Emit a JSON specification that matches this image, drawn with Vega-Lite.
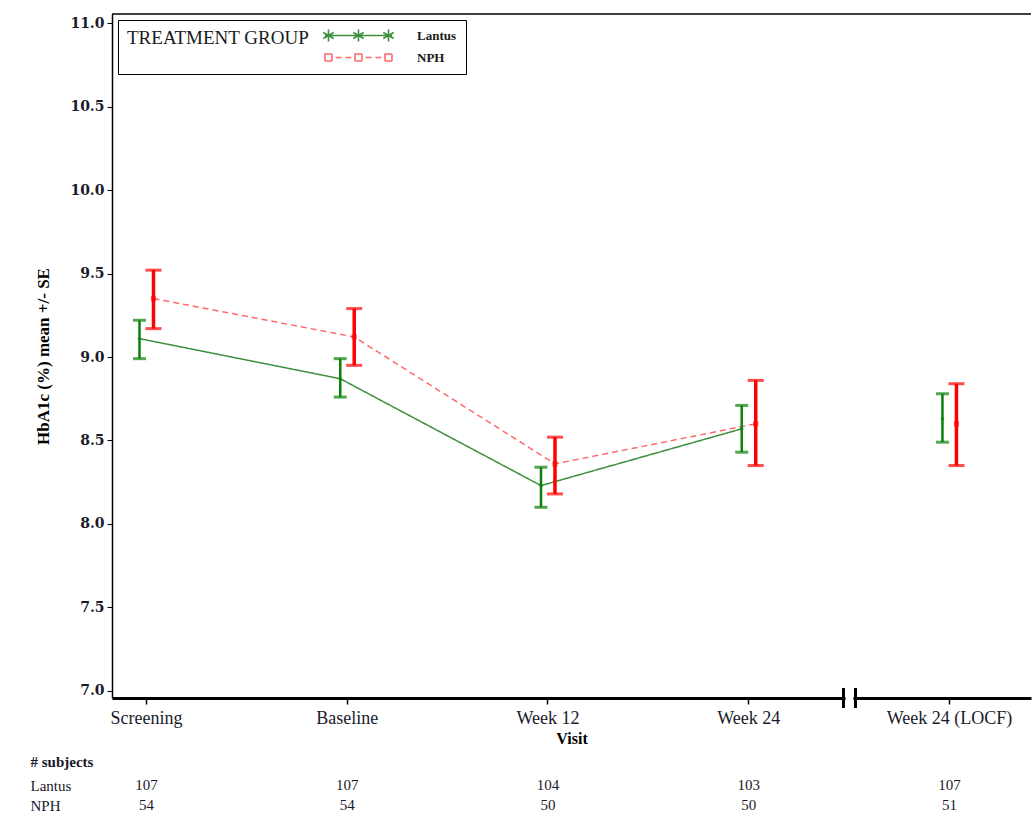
{
  "$schema": "https://vega.github.io/schema/vega-lite/v6.json",
  "padding": {"left": 30, "top": 13, "right": 0, "bottom": 0},
  "background": "white",
  "config": {
    "font": "Liberation Serif",
    "view": {"stroke": null},
    "concat": {"spacing": 8}
  },
  "datasets": {
    "hba1c": [
      {"visit": "Screening", "group": "Lantus", "mean": 9.11, "lower": 8.99, "upper": 9.22, "n": 107},
      {"visit": "Screening", "group": "NPH", "mean": 9.35, "lower": 9.17, "upper": 9.52, "n": 54},
      {"visit": "Baseline", "group": "Lantus", "mean": 8.87, "lower": 8.76, "upper": 8.99, "n": 107},
      {"visit": "Baseline", "group": "NPH", "mean": 9.12, "lower": 8.95, "upper": 9.29, "n": 54},
      {"visit": "Week 12", "group": "Lantus", "mean": 8.23, "lower": 8.10, "upper": 8.34, "n": 104},
      {"visit": "Week 12", "group": "NPH", "mean": 8.36, "lower": 8.18, "upper": 8.52, "n": 50},
      {"visit": "Week 24", "group": "Lantus", "mean": 8.57, "lower": 8.43, "upper": 8.71, "n": 103},
      {"visit": "Week 24", "group": "NPH", "mean": 8.60, "lower": 8.35, "upper": 8.86, "n": 50},
      {"visit": "Week 24 (LOCF)", "group": "Lantus", "mean": 8.63, "lower": 8.49, "upper": 8.78, "n": 107},
      {"visit": "Week 24 (LOCF)", "group": "NPH", "mean": 8.60, "lower": 8.35, "upper": 8.84, "n": 51}
    ],
    "axisbreak": [{"visit": "Week 24 (LOCF)"}]
  },
  "vconcat": [
    {
      "width": 919,
      "height": 684,
      "resolve": {"scale": {"color": "independent"}},
      "layer": [
        {
          "data": {"name": "hba1c"},
          "transform": [{"filter": "datum.visit !== 'Week 24 (LOCF)'"}],
          "mark": {"type": "line", "strokeWidth": 1.5},
          "encoding": {
            "x": {
              "field": "visit",
              "type": "nominal",
              "sort": ["Screening", "Baseline", "Week 12", "Week 24", "Week 24 (LOCF)"],
              "scale": {"type": "band", "domain": ["Screening", "Baseline", "Week 12", "Week 24", "Week 24 (LOCF)"], "paddingInner": 0.8, "paddingOuter": 0.189, "align": 0.19},
              "axis": {
                "title": "Visit",
                "titleFontWeight": "bold",
                "titleFontSize": 16,
                "titlePadding": 3,
                "labelAngle": 0,
                "labelFontSize": 18,
                "labelPadding": 5,
                "labelColor": "#1a1a2a",
                "tickSize": 6,
                "tickWidth": 1.5,
                "tickColor": "#000",
                "domainWidth": 3,
                "domainColor": "#000",
                "grid": false
              }
            },
            "xOffset": {"field": "group", "type": "nominal", "scale": {"domain": ["Lantus", "NPH"], "paddingInner": 0, "paddingOuter": 0.434}},
            "y": {
              "field": "mean",
              "type": "quantitative",
              "scale": {"domain": [6.958, 11.054], "nice": false, "zero": false},
              "axis": {
                "title": "HbA1c (%) mean +/- SE",
                "titleFontWeight": "bold",
                "titleFontSize": 17,
                "titlePadding": 17,
                "values": [7, 7.5, 8, 8.5, 9, 9.5, 10, 10.5, 11],
                "format": ".1f",
                "labelFont": "DejaVu Serif",
                "labelFontWeight": "bold",
                "labelFontSize": 14,
                "labelColor": "#1a1a2a",
                "labelPadding": 3,
                "tickSize": 5,
                "tickColor": "#000",
                "domainColor": "#000",
                "domainWidth": 1.5,
                "grid": false
              }
            },
            "color": {
              "field": "group",
              "type": "nominal",
              "scale": {"domain": ["Lantus", "NPH"], "range": ["#3d8f3d", "#ff6a6a"]},
              "legend": {
                "title": "TREATMENT GROUP",
                "orient": "top-left",
                "offset": 6,
                "titleOrient": "left",
                "titleBaseline": "top",
                "titleAnchor": "start",
                "titleLimit": 400,
                "titleFontSize": 19,
                "titleFontWeight": "normal",
                "titleColor": "#1a1a1a",
                "titlePadding": 14,
                "labelFontSize": 13,
                "labelFontWeight": "bold",
                "labelColor": "#1a1a1a",
                "labelOffset": 52,
                "symbolOffset": 28,
                "symbolSize": 100,
                "symbolStrokeWidth": 1.5,
                "rowPadding": 5,
                "padding": 9,
                "strokeColor": "#000",
                "fillColor": "white",
                "encode": {
                  "symbols": {
                    "update": {
                      "shape": {"signal": "datum.value === 'Lantus' ? 'M-6.7,0L6.7,0M-6,-1.2L-6,1.2M-7.05,-0.6L-4.95,0.6M-7.05,0.6L-4.95,-0.6M0,-1.2L0,1.2M-1.05,-0.6L1.05,0.6M-1.05,0.6L1.05,-0.6M6,-1.2L6,1.2M4.95,-0.6L7.05,0.6M4.95,0.6L7.05,-0.6' : 'M-6.7,-0.7h1.4v1.4h-1.4zM-0.7,-0.7h1.4v1.4h-1.4zM5.3,-0.7h1.4v1.4h-1.4zM-4.57,0h1.2M-2.63,0h1.2M1.43,0h1.2M3.37,0h1.2'"},
                      "stroke": {"signal": "datum.value === 'Lantus' ? '#1a8a1a' : '#ff2020'"},
                      "fill": {"value": "transparent"},
                      "strokeDash": {"value": [1, 0]},
                      "strokeWidth": {"value": 1.6},
                      "size": {"value": 100},
                      "opacity": {"value": 1}
                    }
                  }
                }
              }
            },
            "strokeDash": {"field": "group", "type": "nominal", "scale": {"domain": ["Lantus", "NPH"], "range": [[1, 0], [6, 4]]}, "legend": null}
          }
        },
        {
          "data": {"name": "axisbreak"},
          "mark": {"type": "rule", "color": "black", "strokeWidth": 1.5},
          "encoding": {
            "y": {"datum": 11.054, "type": "quantitative"}
          }
        },
        {
          "data": {"name": "hba1c"},
          "mark": {"type": "rule"},
          "encoding": {
            "x": {"field": "visit", "type": "nominal"},
            "xOffset": {"field": "group", "type": "nominal"},
            "y": {"field": "lower", "type": "quantitative"},
            "y2": {"field": "upper"},
            "stroke": {"field": "group", "type": "nominal", "scale": {"domain": ["Lantus", "NPH"], "range": ["#0a820a", "#ff0000"]}, "legend": null},
            "strokeWidth": {"field": "group", "type": "nominal", "scale": {"domain": ["Lantus", "NPH"], "range": [2.5, 3.5]}, "legend": null}
          }
        },
        {
          "data": {"name": "hba1c"},
          "mark": {"type": "tick", "thickness": 3, "orient": "horizontal"},
          "encoding": {
            "x": {"field": "visit", "type": "nominal"},
            "xOffset": {"field": "group", "type": "nominal"},
            "y": {"field": "lower", "type": "quantitative"},
            "color": {"field": "group", "type": "nominal", "scale": {"domain": ["Lantus", "NPH"], "range": ["#0a820a", "#ff0000"]}, "legend": null},
            "size": {"field": "group", "type": "nominal", "scale": {"domain": ["Lantus", "NPH"], "range": [13, 16]}, "legend": null}
          }
        },
        {
          "data": {"name": "hba1c"},
          "mark": {"type": "tick", "thickness": 3, "orient": "horizontal"},
          "encoding": {
            "x": {"field": "visit", "type": "nominal"},
            "xOffset": {"field": "group", "type": "nominal"},
            "y": {"field": "upper", "type": "quantitative"},
            "color": {"field": "group", "type": "nominal", "scale": {"domain": ["Lantus", "NPH"], "range": ["#0a820a", "#ff0000"]}, "legend": null},
            "size": {"field": "group", "type": "nominal", "scale": {"domain": ["Lantus", "NPH"], "range": [13, 16]}, "legend": null}
          }
        },
        {
          "data": {"name": "hba1c"},
          "mark": {"type": "point", "filled": false, "strokeWidth": 1.2},
          "encoding": {
            "x": {"field": "visit", "type": "nominal"},
            "xOffset": {"field": "group", "type": "nominal"},
            "y": {"field": "mean", "type": "quantitative"},
            "stroke": {"field": "group", "type": "nominal", "scale": {"domain": ["Lantus", "NPH"], "range": ["#0a820a", "#ff0000"]}, "legend": null},
            "shape": {"field": "group", "type": "nominal", "scale": {"domain": ["Lantus", "NPH"], "range": ["M0,-1L0,1M-0.87,-0.5L0.87,0.5M-0.87,0.5L0.87,-0.5M-1,0L1,0", "square"]}, "legend": null},
            "size": {"field": "group", "type": "nominal", "scale": {"domain": ["Lantus", "NPH"], "range": [50, 60]}, "legend": null},
            "opacity": {"field": "group", "type": "nominal", "scale": {"domain": ["Lantus", "NPH"], "range": [0.7, 0.6]}, "legend": null}
          }
        },
        {
          "data": {"name": "axisbreak"},
          "mark": {"type": "point", "shape": "square", "filled": true, "color": "white", "opacity": 1, "size": 64},
          "encoding": {
            "x": {"field": "visit", "type": "nominal", "bandPosition": -1.99},
            "y": {"datum": 6.958, "type": "quantitative"}
          }
        },
        {
          "data": {"name": "axisbreak"},
          "mark": {"type": "rule", "color": "black", "strokeWidth": 3},
          "encoding": {
            "x": {"field": "visit", "type": "nominal", "bandPosition": -2.14},
            "y": {"datum": 6.898, "type": "quantitative"},
            "y2": {"datum": 7.018}
          }
        },
        {
          "data": {"name": "axisbreak"},
          "mark": {"type": "rule", "color": "black", "strokeWidth": 3},
          "encoding": {
            "x": {"field": "visit", "type": "nominal", "bandPosition": -1.84},
            "y": {"datum": 6.898, "type": "quantitative"},
            "y2": {"datum": 7.018}
          }
        }
      ]
    },
    {
      "width": 919,
      "height": 40,
      "data": {"name": "hba1c"},
      "mark": {"type": "text", "fontSize": 15, "color": "#1a1a2a"},
      "encoding": {
        "x": {
          "field": "visit",
          "type": "nominal",
          "scale": {"type": "band", "domain": ["Screening", "Baseline", "Week 12", "Week 24", "Week 24 (LOCF)"], "paddingInner": 0.8, "paddingOuter": 0.189, "align": 0.19},
          "axis": null
        },
        "y": {
          "field": "group",
          "type": "nominal",
          "scale": {"domain": ["Lantus", "NPH"], "paddingInner": 0, "paddingOuter": 0},
          "axis": {
            "title": "# subjects",
            "titleAngle": 0,
            "titleAlign": "left",
            "titleBaseline": "middle",
            "titleX": -82,
            "titleY": -14,
            "titleFontSize": 15,
            "titleFontWeight": "bold",
            "titleColor": "#1a1a2a",
            "labelAlign": "left",
            "labelPadding": 82,
            "labelFontSize": 15,
            "labelColor": "#1a1a2a",
            "ticks": false,
            "tickSize": 0,
            "domain": false,
            "grid": false
          }
        },
        "text": {"field": "n", "type": "quantitative"}
      }
    }
  ]
}
